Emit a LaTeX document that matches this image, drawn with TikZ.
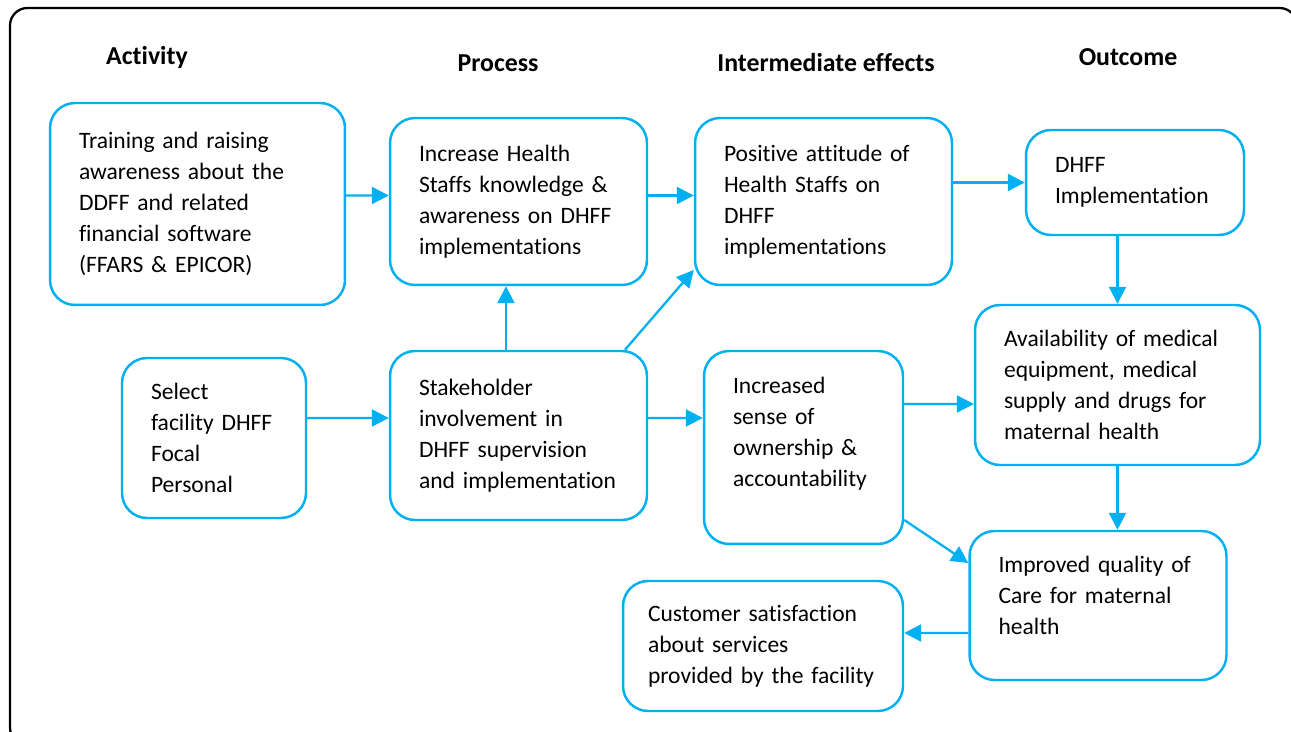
\documentclass[tikz,border=0pt]{standalone}
\usepackage{fontspec}
\setmainfont{Carlito}[Ligatures=NoCommon]
\usepackage{xcolor}
\usepackage{tikz}
\usetikzlibrary{arrows.meta, positioning}
\definecolor{skyblue}{RGB}{0,176,240}

\begin{document}
\begin{tikzpicture}[x=0.02cm, y=-0.02cm,
    box/.style={rectangle, draw=skyblue, line width=1.4pt, rounded corners=0.5cm,
      align=left, inner xsep=0.58cm, inner ysep=0pt,
      font=\fontsize{13.4}{17.6}\selectfont},
    head/.style={font=\fontsize{14.7}{17}\selectfont\bfseries},
    arr/.style={draw=skyblue, line width=1.3pt, -{Triangle[length=0.34cm,width=0.34cm]}}]
  \useasboundingbox (0,0) rectangle (1291,732);
  \draw[line width=1.3pt, rounded corners=0.35cm] (10,8) rectangle (1297,745);

  \node[head] (hAct) at (147,57) {Activity};
  \node[head] (hProc) at (498,63) {Process};
  \node[head] (hInt) at (826,63) {Intermediate effects};
  \node[head] (hOut) at (1128,57) {Outcome};

  \node[box, text width=4.74cm, minimum height=4.04cm] (train) at (197.5,204)
    {Training and raising\\awareness about the\\DDFF and related\\financial software\\(FFARS \& EPICOR)};
  \node[box, text width=3.98cm, minimum height=3.34cm] (incr) at (518.5,201.5)
    {Increase Health\\Staffs knowledge \&\\awareness on DHFF\\implementations};
  \node[box, text width=3.98cm, minimum height=3.34cm] (pos) at (823.5,201.5)
    {Positive attitude of\\Health Staffs on\\DHFF\\implementations};
  \node[box, text width=3.2cm, minimum height=2.1cm] (dhff) at (1135,182.5)
    {DHFF\\Implementation};
  \node[box, text width=2.52cm, minimum height=3.2cm] (select) at (214,438)
    {Select\\facility DHFF\\Focal\\Personal};
  \node[box, text width=3.98cm, minimum height=3.38cm] (stake) at (518.5,435.5)
    {Stakeholder\\involvement in\\DHFF supervision\\and implementation};
  \node[box, text width=2.82cm, minimum height=3.86cm] (sense) at (803.5,447.5)
    {Increased\\sense of\\ownership \&\\accountability\\ \mbox{}};
  \node[box, text width=4.54cm, minimum height=3.2cm] (avail) at (1117.5,385)
    {Availability of medical\\equipment, medical\\supply and drugs for\\maternal health};
  \node[box, text width=3.98cm, minimum height=2.98cm] (improved) at (1098,605.5)
    {Improved quality of\\Care for maternal\\health\\[-0.22cm]\mbox{}};
  \node[box, text width=4.6cm, inner xsep=0.5cm, minimum height=2.6cm] (customer) at (763,646)
    {Customer satisfaction\\about services\\provided by the facility};

  \draw[arr] ([yshift=0.17cm]train.east) -- ([yshift=0.12cm]incr.west);
  \draw[arr] ([yshift=0.12cm]incr.east) -- ([yshift=0.12cm]pos.west);
  \draw[arr] (pos.east |- dhff.west) -- (dhff.west);
  \draw[arr] (dhff.south -| avail.north) -- (avail.north);
  \draw[arr] ([yshift=0.4cm]select.east) -- ([yshift=0.35cm]stake.west);
  \draw[arr] ([xshift=-0.25cm]stake.north) -- ([xshift=-0.25cm]incr.south);
  \draw[arr] ([xshift=2.13cm]stake.north) -- ([yshift=-1.37cm]pos.west);
  \draw[arr] ([yshift=0.35cm]stake.east) -- ([yshift=0.59cm]sense.west);
  \draw[arr] ([yshift=0.87cm]sense.east) -- ([yshift=-0.38cm]avail.west);
  \draw[arr] ([yshift=-1.45cm]sense.east) -- ([yshift=0.85cm]improved.west);
  \draw[arr] (avail.south) -- (avail.south |- improved.north);
  \draw[arr] ([yshift=-0.55cm]improved.west) -- ([yshift=0.26cm]customer.east);
\end{tikzpicture}
\end{document}
